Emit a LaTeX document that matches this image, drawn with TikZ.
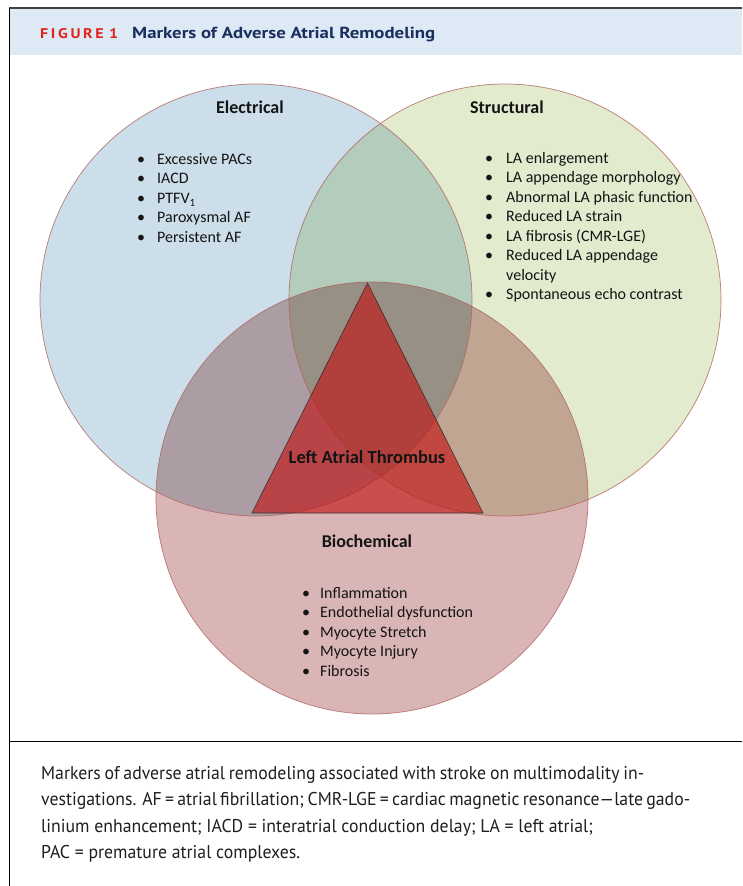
\documentclass[tikz,border=0pt]{standalone}
\usepackage{fontspec}
\usepackage{graphicx}
\setmainfont{Carlito}
\newfontfamily\headfont{PT Sans}
\newfontfamily\capfont{PT Sans}[FakeStretch=0.96]

\definecolor{headbg}{HTML}{DDE9F5}
\definecolor{figred}{HTML}{E2231A}
\definecolor{navy}{HTML}{1A2F5E}
\definecolor{elecfill}{HTML}{CBDEE9}
\definecolor{strucfill}{HTML}{E2EBCE}
\definecolor{biofill}{HTML}{D9B5B5}
\definecolor{ringcol}{HTML}{B0605A}
\definecolor{thrombus}{HTML}{C30A0A}
\definecolor{inktext}{HTML}{141414}

\tikzset{
  frameline/.style={line width=1.2pt, black},
  setcircle/.style={blend mode=multiply},
  ring/.style={draw=ringcol, draw opacity=0.8, line width=0.7pt},
  settitle/.style={inner sep=0pt, text=inktext, font=\fontsize{18}{20}\selectfont\bfseries},
  itemlist/.style={inner sep=0pt, anchor=base west, text=inktext,
    font=\fontsize{16}{19.5}\selectfont},
  capline/.style={inner sep=0pt, anchor=base west, text=black!88,
    font=\capfont\fontsize{18.5}{20}\selectfont},
}

\begin{document}
\begin{tikzpicture}[x=1pt, y=-1pt]
\useasboundingbox (0,0) rectangle (742,886);
\fill[white] (0,0) rectangle (742,886);

% header band and frame
\fill[headbg] (10,9) rectangle (742,55);
\draw[line width=1.6pt, black!75] (9,8) -- (742,8);
\draw[frameline] (9.5,8) -- (9.5,886);
\draw[frameline] (9.5,741.5) -- (742,741.5);

\node[inner sep=0pt, anchor=base west, text=figred,
      font=\headfont\bfseries\fontsize{14}{16}\selectfont]
  (fignum) at (40,38) {\resizebox{78pt}{\height}{F\,I\,G\,U\,R\,E\,\,1}};
\node[inner sep=0pt, anchor=base west, text=navy,
      font=\headfont\bfseries\fontsize{16}{18}\selectfont]
  (figtitle) at (132,38.5) {\resizebox{303pt}{\height}{Markers of Adverse Atrial Remodeling}};

% circle centres
\coordinate (cE) at (256,300);
\coordinate (cS) at (505,300);
\coordinate (cB) at (372,498);

% overlapping sets
\fill[setcircle, elecfill] (cE) circle[radius=216];
\fill[setcircle, strucfill] (cS) circle[radius=216];
\fill[setcircle, biofill] (cB) circle[radius=216];
\draw[ring] (cE) circle[radius=216];
\draw[ring] (cS) circle[radius=216];
\draw[ring] (cB) circle[radius=216];

% central triangle
\coordinate (tA) at (367.5,283);
\coordinate (tL) at (252,513);
\coordinate (tR) at (483,513);
\filldraw[fill=thrombus, fill opacity=0.6, draw=black!80, line width=0.6pt]
  (tA) -- (tL) -- (tR) -- cycle;

% set titles
\node[settitle] (telec) at (250,107) {Electrical};
\node[settitle] (tstruc) at (507,107) {Structural};
\node[settitle] (tbio) at (367,541) {Biochemical};
\node[settitle, font=\fontsize{18.5}{20}\selectfont\bfseries] (tthromb) at (367,457) {Left Atrial Thrombus};

% lists
\node[itemlist] (lelec) at (137,164) {%
  \begin{tabular}[t]{@{}p{20pt}@{}l@{}}
  \textbullet & Excessive PACs\\
  \textbullet & IACD\\
  \textbullet & PTFV\raisebox{-0.22em}{\fontsize{11}{11}\selectfont 1}\\
  \textbullet & Paroxysmal AF\\
  \textbullet & Persistent AF
  \end{tabular}};
\node[itemlist] (lstruc) at (485,163) {%
  \begin{tabular}[t]{@{}p{21pt}@{}l@{}}
  \textbullet & LA enlargement\\
  \textbullet & LA appendage morphology\\
  \textbullet & Abnormal LA phasic function\\
  \textbullet & Reduced LA strain\\
  \textbullet & LA fibrosis (CMR-LGE)\\
  \textbullet & Reduced LA appendage\\
              & velocity\\
  \textbullet & Spontaneous echo contrast
  \end{tabular}};
\node[itemlist] (lbio) at (302,598) {%
  \begin{tabular}[t]{@{}p{18pt}@{}l@{}}
  \textbullet & Inflammation\\
  \textbullet & Endothelial dysfunction\\
  \textbullet & Myocyte Stretch\\
  \textbullet & Myocyte Injury\\
  \textbullet & Fibrosis
  \end{tabular}};

% legend text
\node[capline] (cap1) at (41,779) {\makebox[603pt][s]{Markers of adverse atrial remodeling associated with stroke on multimodality in-}};
\node[capline] (cap2) at (41,805) {\makebox[649pt][s]{vestigations. AF = atrial fibrillation; CMR-LGE = cardiac magnetic resonance—late gado-}};
\node[capline] (cap3) at (41,832) {linium enhancement; IACD = interatrial conduction delay; LA = left atrial;};
\node[capline] (cap4) at (41,858) {PAC = premature atrial complexes.};
\end{tikzpicture}
\end{document}
